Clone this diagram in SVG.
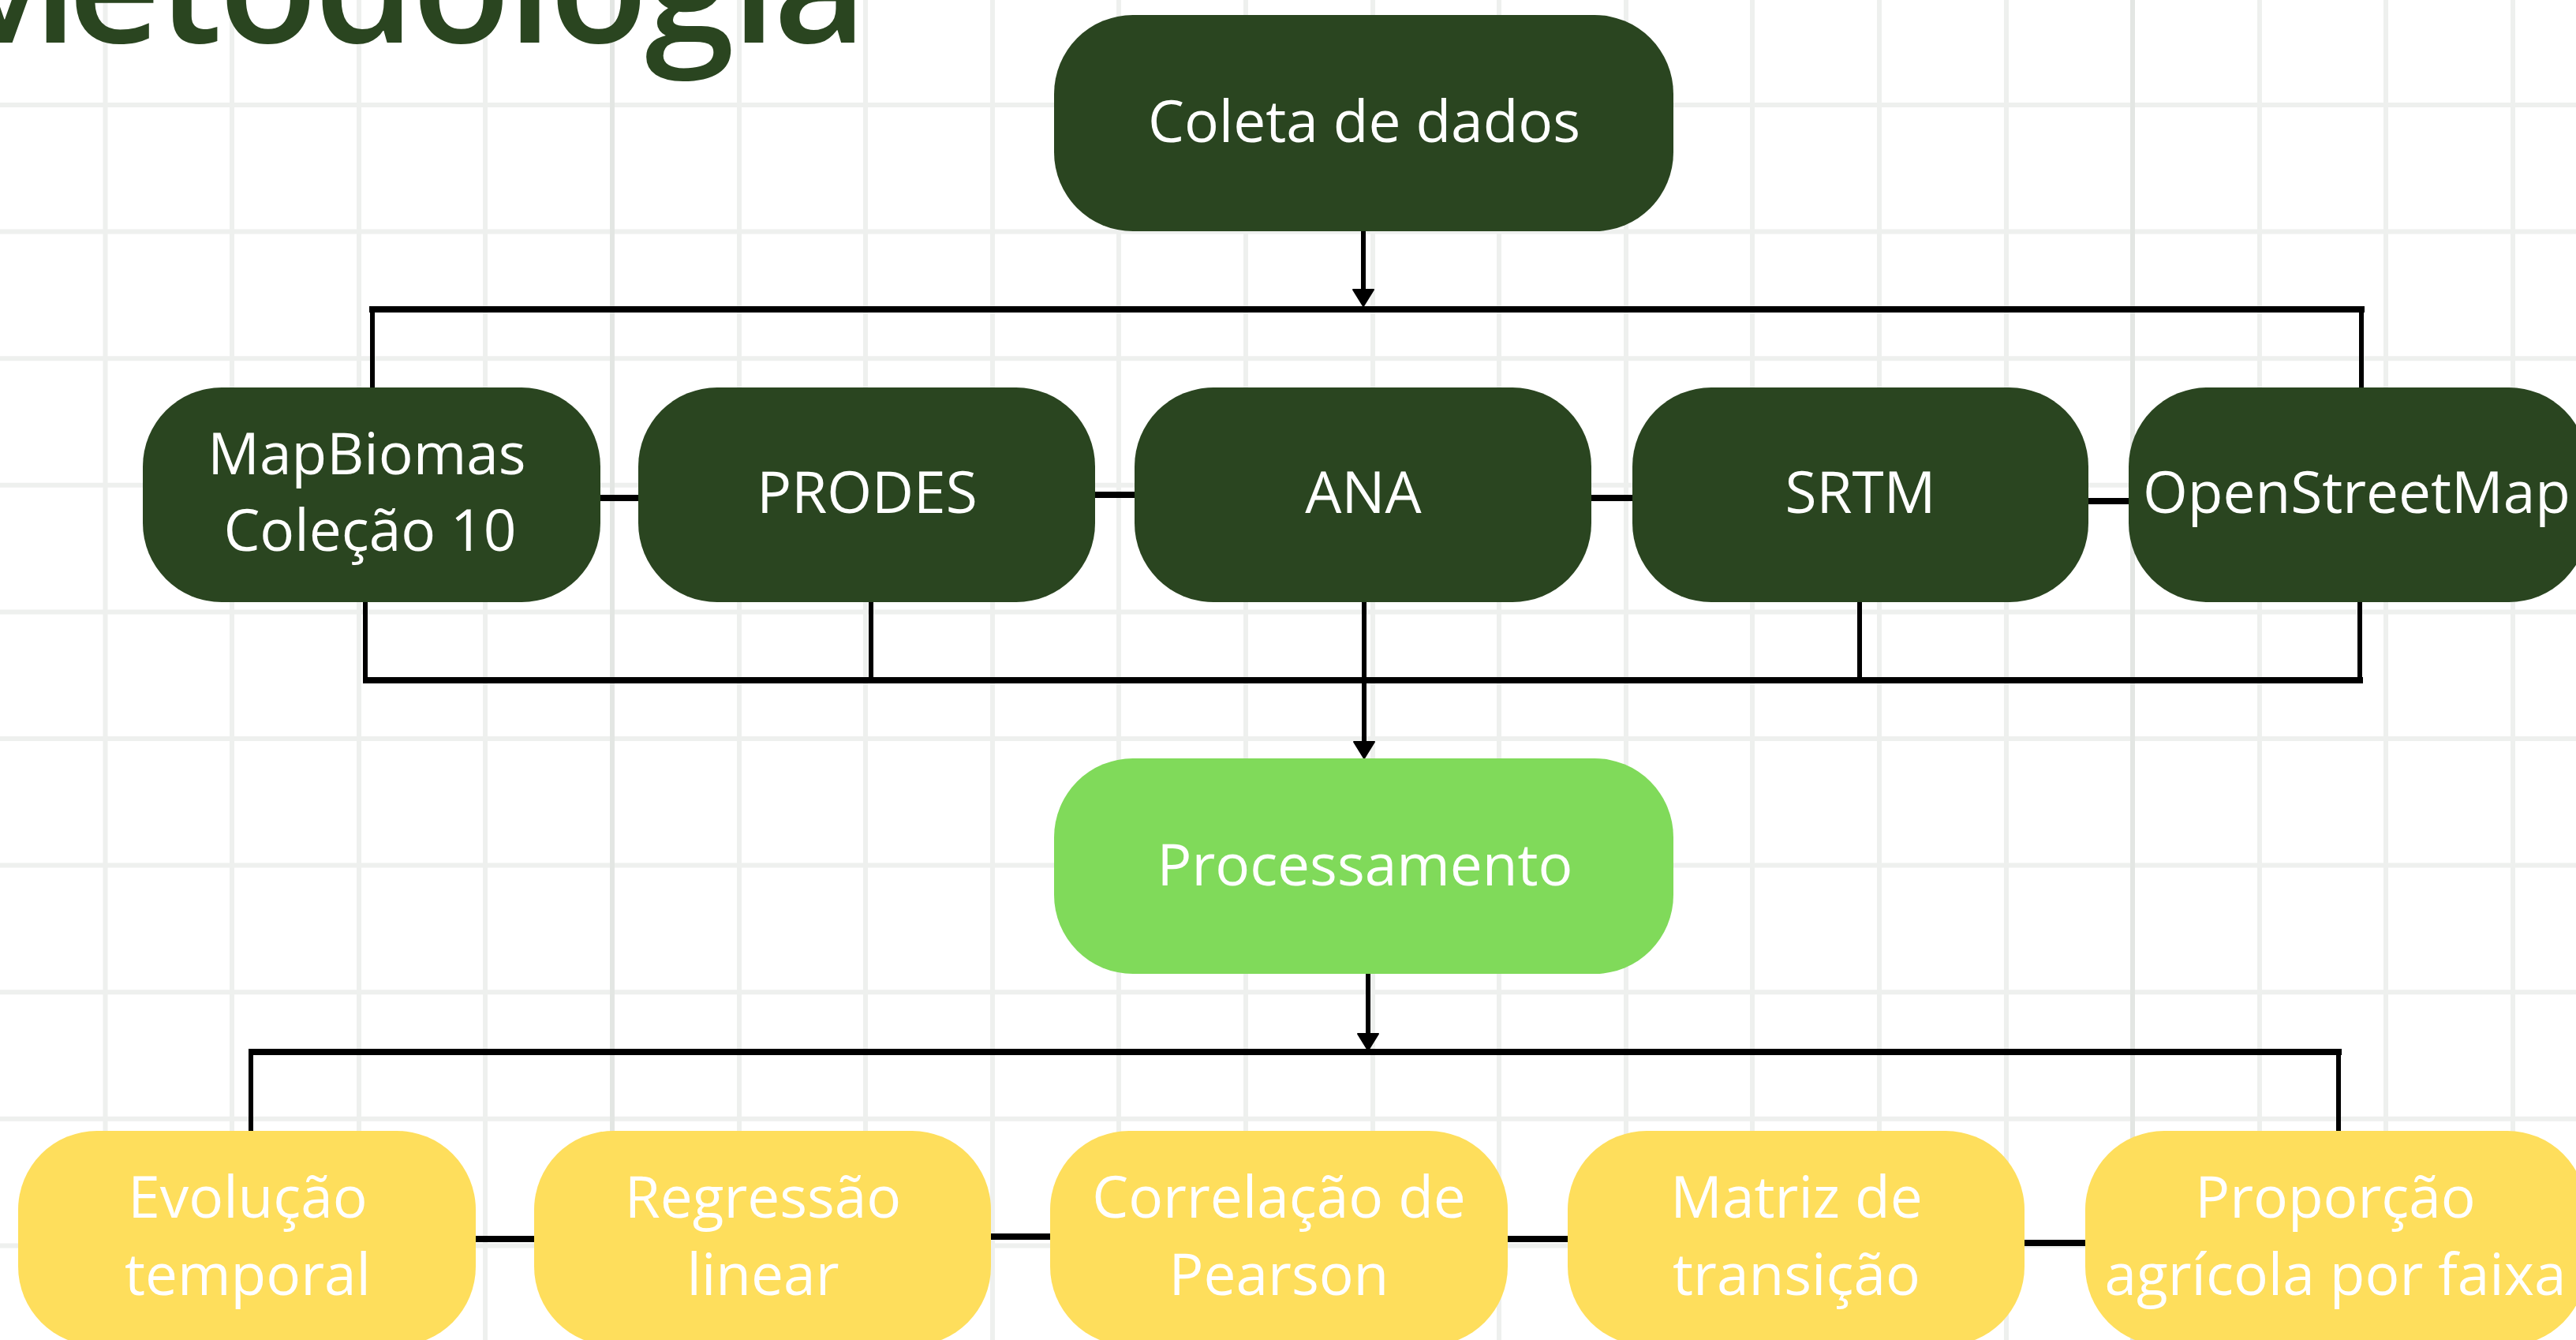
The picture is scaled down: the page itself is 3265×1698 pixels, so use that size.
<svg xmlns="http://www.w3.org/2000/svg" width="3265" height="1698" viewBox="0 0 3265 1698">
<defs>
<style>
.grid{stroke:#eef0ee;stroke-width:6;fill:none}
.gridd{stroke:#e3e6e3;stroke-width:6;fill:none}
.dark{fill:#2a4520}
.proc{fill:#80da5a}
.yel{fill:#fede5c}
.lbl{font-family:"Open Sans","Liberation Sans",sans-serif;font-size:73px;fill:#ffffff;text-anchor:middle}
.bus{stroke:#000;stroke-width:8;fill:none}
.drop{stroke:#000;stroke-width:6;fill:none}
.link{stroke:#000;stroke-width:8;fill:none}
.title{font-family:"Open Sans","Liberation Sans",sans-serif;font-size:205px;font-weight:600;fill:#2a4520;letter-spacing:-4px}
</style>
<marker id="arr" viewBox="0 -15 24 30" markerWidth="24" markerHeight="30" refX="0" refY="0" orient="auto" markerUnits="userSpaceOnUse">
<path d="M1,-13 L22,0 L1,13 z" fill="#000" stroke="#000" stroke-width="2" stroke-linejoin="round"/>
</marker>
</defs>
<rect width="3265" height="1698" fill="#ffffff"/>
<g id="grid">
<path class="grid" d="M133.5,0V1698M294,0V1698M455,0V1698M615,0V1698M937,0V1698M1097,0V1698M1258,0V1698M1418,0V1698M1579,0V1698M1740,0V1698M1900,0V1698M2061,0V1698M2221,0V1698M2382,0V1698M2543,0V1698M2864,0V1698M3024,0V1698M3185,0V1698"/>
<path class="grid" d="M0,133H3265M0,293.6H3265M0,454.2H3265M0,614.8H3265M0,775.4H3265M0,936H3265M0,1096.6H3265M0,1257.2H3265M0,1417.8H3265M0,1578.4H3265"/>
<path class="gridd" d="M776,0V1698M2703,0V1698"/>
</g>
<text id="title" class="title" y="54"><tspan x="-88">M</tspan><tspan x="86">etodologia</tspan></text>
<g id="connectors">
<path class="drop" d="M1728,293V366" marker-end="url(#arr)"/>
<path class="bus" d="M468,392H2997"/>
<path class="drop" d="M472,392V491M2993,392V491"/>
<path class="link" d="M761,631H809M1388,627H1438M2017,631H2069M2647,635H2698"/>
<path class="drop" d="M463,763V866M1104,763V866M2357,763V866M2991,763V866"/>
<path class="bus" d="M463,862H2995"/>
<path class="drop" d="M1729,763V939" marker-end="url(#arr)"/>
<path class="drop" d="M1734,1234V1309" marker-end="url(#arr)"/>
<path class="bus" d="M315,1333H2968"/>
<path class="drop" d="M318,1333V1433M2964,1333V1433"/>
<path class="link" d="M603,1570H677M1256,1567H1331M1911,1570H1987M2566,1575H2643"/>
</g>
<g id="coleta"><rect class="dark" x="1336" y="19" width="785" height="274" rx="100"/><text class="lbl" x="1729" y="180">Coleta de dados</text></g>
<g id="mapbiomas"><rect class="dark" x="181" y="491" width="580" height="272" rx="100"/><text class="lbl" x="465" y="601">MapBiomas</text><text class="lbl" x="469" y="698">Coleção 10</text></g>
<g id="prodes"><rect class="dark" x="809" y="491" width="579" height="272" rx="100"/><text class="lbl" x="1099" y="650">PRODES</text></g>
<g id="ana"><rect class="dark" x="1438" y="491" width="579" height="272" rx="100"/><text class="lbl" x="1728" y="650">ANA</text></g>
<g id="srtm"><rect class="dark" x="2069" y="491" width="578" height="272" rx="100"/><text class="lbl" x="2358" y="650">SRTM</text></g>
<g id="osm"><rect class="dark" x="2698" y="491" width="582" height="272" rx="100"/><text class="lbl" x="2987" y="650">OpenStreetMap</text></g>
<g id="processamento"><rect class="proc" x="1336" y="961" width="785" height="273" rx="100"/><text class="lbl" x="1730" y="1122">Processamento</text></g>
<g id="evolucao"><rect class="yel" x="23" y="1433" width="580" height="272" rx="100"/><text class="lbl" x="314" y="1543">Evolução</text><text class="lbl" x="314" y="1641">temporal</text></g>
<g id="regressao"><rect class="yel" x="677" y="1433" width="579" height="272" rx="100"/><text class="lbl" x="967" y="1543">Regressão</text><text class="lbl" x="967" y="1641">linear</text></g>
<g id="correlacao"><rect class="yel" x="1331" y="1433" width="580" height="272" rx="100"/><text class="lbl" x="1621" y="1543">Correlação de</text><text class="lbl" x="1621" y="1641">Pearson</text></g>
<g id="matriz"><rect class="yel" x="1987" y="1433" width="579" height="272" rx="100"/><text class="lbl" x="2277" y="1543">Matriz de</text><text class="lbl" x="2277" y="1641">transição</text></g>
<g id="proporcao"><rect class="yel" x="2643" y="1433" width="635" height="272" rx="100"/><text class="lbl" x="2960" y="1543">Proporção</text><text class="lbl" x="2960" y="1641">agrícola por faixa</text></g>
</svg>
